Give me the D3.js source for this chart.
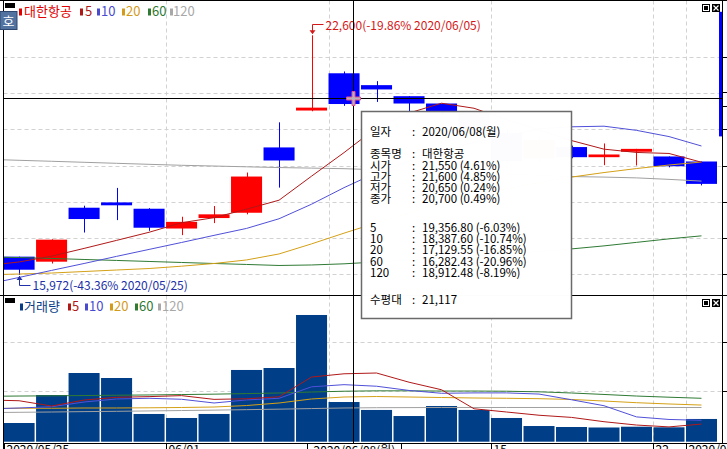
<!DOCTYPE html>
<html><head><meta charset="utf-8">
<script src="https://cdn.jsdelivr.net/npm/d3@7"></script>
<style>
html,body{margin:0;padding:0;background:#fff;overflow:hidden}
svg{display:block;font-family:'Noto Sans CJK KR','Noto Sans',sans-serif}
</style></head><body><svg id="c" width="727" height="449"></svg>
<script>
// ---------------- data ----------------
const prevDate = "2020/05/22";
const tradeDates = ["2020/05/25","2020/05/26","2020/05/27","2020/05/28","2020/05/29","2020/06/01","2020/06/02","2020/06/03","2020/06/04","2020/06/05","2020/06/08","2020/06/09","2020/06/10","2020/06/11","2020/06/12","2020/06/15","2020/06/16","2020/06/17","2020/06/18","2020/06/19","2020/06/22","2020/06/23"];
const openP  = [16480,16341,17833,17980,17805,17258,17547,17694,19500,20520,21550,21222,20917,20714,20450,19900,19200,19510,19230,19380,19250,19111];
const highP  = [16480,16960,17889,18380,17820,17583,17880,18805,20194,22600,21600,21333,20917,20714,20500,20000,19800,19550,19610,19460,19250,19111];
const lowP   = [15972,16290,17147,17491,17194,17075,17408,17650,18389,20500,20650,20758,20481,20400,19850,19050,19100,19200,19010,19000,18950,18450];
const closeP = [16119,16950,17520,17900,17280,17442,17650,18695,19139,20600,20700,21103,20714,20493,19905,19120,19700,19230,19305,19460,18980,18492];
const volume = [1708000,4565000,6810000,6300000,2630000,2220000,2630000,7120000,7320000,12730000,3850000,3040000,2420000,3440000,3040000,2220000,1400000,1300000,1250000,1330000,1270000,2120000];
// moving averages, first value belongs to prevDate
const ma5   = [16236,16333,16494,16708,16930,17154,17418,17558,17793,18041,18705,19357,20047,20451,20722,20583,20267,19986,19690,19452,19361,19333,19091];
const ma10  = [15714,15905,16100,16291,16488,16680,16872,17069,17261,17528,17930,18388,18803,19122,19382,19644,19812,20017,20070,20087,19972,19800,19539];
const ma20  = [15978,16000,16027,16069,16111,16152,16216,16291,16389,16555,16833,17130,17416,17694,17944,18166,18361,18528,18680,18805,18916,19014,19097];
const ma60  = [16472,16455,16430,16402,16375,16347,16319,16291,16264,16236,16250,16282,16333,16389,16444,16500,16555,16625,16694,16778,16875,16972,17055];
const ma120 = [19172,19144,19117,19089,19061,19033,19006,18986,18964,18944,18928,18912,18883,18853,18822,18792,18761,18730,18694,18680,18658,18617,18569];
const vma5   = [4060000,3980000,3440000,4050000,4330000,4400000,4500000,4120000,4180000,4380000,6400000,6730000,6810000,5870000,5100000,3160000,2830000,2500000,2280000,1840000,1500000,1310000,1600000];
const vma10  = [3140000,3240000,3370000,3850000,4160000,4230000,4130000,3750000,4060000,4230000,5400000,5620000,5460000,5030000,4740000,4780000,4780000,4660000,4080000,3470000,2330000,2070000,1980000];
const vma20  = [3190000,3210000,3210000,3240000,3240000,3260000,3290000,3340000,3490000,3750000,4160000,4360000,4410000,4360000,4310000,4260000,4230000,4190000,4110000,3950000,3780000,3650000,3540000];
const vma60  = [4430000,4460000,4480000,4510000,4540000,4570000,4610000,4650000,4710000,4770000,4870000,4950000,4990000,4990000,4970000,4970000,4950000,4890000,4770000,4620000,4460000,4340000,4230000];
const vma120 = [2770000,2800000,2830000,2870000,2900000,2940000,2980000,3020000,3070000,3120000,3180000,3240000,3270000,3280000,3290000,3290000,3290000,3290000,3290000,3290000,3290000,3290000,3290000];
const priceTicks = [16000,17000,18000,19000,20000,21000,22000];
const volTicks = [5000000,10000000];
const dateTicks = [
  {d:"2020/05/25", label:"2020/05/25", grid:false},
  {d:"2020/06/01", label:"06/01", grid:true},
  {d:"2020/06/08", label:"", grid:true},
  {d:"2020/06/15", label:"15", grid:true},
  {d:"2020/06/22", label:"22", grid:true},
  {d:"2020/06/23", label:"2020/06/23", grid:true}
];
const highMark = {d:"2020/06/05", v:22600, text:"22,600(-19.86% 2020/06/05)"};
const lowMark  = {d:"2020/05/25", v:15972, text:"15,972(-43.36% 2020/05/25)"};
const cursor = {d:"2020/06/08", frac:0.8, price:20866, label:"2020/06/08(월)"};
const sideBar = [19805, 23250];
const tipLabels = ["일자","종목명","시가","고가","저가","종가","5","10","20","60","120","수평대"];
const tipValues = ["2020/06/08(월)","대한항공","21,550 (4.61%)","21,600 (4.85%)","20,650 (0.24%)","20,700 (0.49%)","19,356.80 (-6.03%)","18,387.60 (-10.74%)","17,129.55 (-16.85%)","16,282.43 (-20.96%)","18,912.48 (-8.19%)","21,117"];
const priceLegend = [{t:"대한항공",c:"#e00000"},{t:"5",c:"#b01818"},{t:"10",c:"#4a4ad0"},{t:"20",c:"#d49a1c"},{t:"60",c:"#2f7a34"},{t:"120",c:"#a8a8a8"}];
const volLegend   = [{t:"거래량",c:"#0a3d87"},{t:"5",c:"#b01818"},{t:"10",c:"#4a4ad0"},{t:"20",c:"#d49a1c"},{t:"60",c:"#2f7a34"},{t:"120",c:"#a8a8a8"}];

// ---------------- layout ----------------
const svg = d3.select("#c");
const L = 3.5, R = 722.5, pTop = 0.5, pBot = 295.5, vBot = 443.5;
const allDates = [prevDate, ...tradeDates];
const x = d3.scaleBand().domain(allDates).range([-28.93, 717]).paddingInner(0.045).paddingOuter(0);
const bw = x.bandwidth();
const cx = d => x(d) + bw / 2;
const y = d3.scaleLinear().domain([15500, 23500]).range([292.1, 2.75]);
const yv = d3.scaleLinear().domain([-200000, 15000000]).range([441.7, 292.74]);
const maColors = ["#b01818","#5050d8","#d4a017","#2f7a34","#a0a0a0"];

const defs = svg.append("defs");
defs.append("clipPath").attr("id","cp").append("rect").attr("x",L).attr("y",pTop).attr("width",R-L).attr("height",pBot-pTop);
defs.append("clipPath").attr("id","cv").append("rect").attr("x",L).attr("y",pBot).attr("width",R-L).attr("height",vBot-pBot);

const gP = svg.append("g").attr("clip-path","url(#cp)");
const gV = svg.append("g").attr("clip-path","url(#cv)");

// gridlines
const gridCol = "#d2d2d2";
const vgrid = dateTicks.filter(t=>t.grid);
[[gP,pTop,pBot],[gV,pBot,vBot]].forEach(([g,t,b])=>{
  g.selectAll(null).data(vgrid).join("line")
    .attr("x1",d=>Math.round(x(d.d))+0.5).attr("x2",d=>Math.round(x(d.d))+0.5)
    .attr("y1",t).attr("y2",b).attr("stroke",gridCol).attr("stroke-dasharray","4,3");
});
gP.selectAll(null).data(priceTicks).join("line")
  .attr("x1",L).attr("x2",R).attr("y1",d=>Math.round(y(d))+0.5).attr("y2",d=>Math.round(y(d))+0.5)
  .attr("stroke",gridCol).attr("stroke-dasharray","4,3");
gV.selectAll(null).data(volTicks).join("line")
  .attr("x1",L).attr("x2",R).attr("y1",d=>Math.round(yv(d))+0.5).attr("y2",d=>Math.round(yv(d))+0.5)
  .attr("stroke",gridCol).attr("stroke-dasharray","4,3");

// candles
const candles = tradeDates.map((d,i)=>({d,o:openP[i],h:highP[i],l:lowP[i],c:closeP[i]}));
const colOf = k => k.c >= k.o ? "#ff0000" : "#0000ff";
gP.selectAll(".wick").data(candles).join("line").attr("class","wick")
  .attr("x1",k=>Math.round(cx(k.d))+0.5).attr("x2",k=>Math.round(cx(k.d))+0.5)
  .attr("y1",k=>y(k.h)).attr("y2",k=>y(k.l)).attr("stroke",colOf).attr("stroke-width",1);
gP.selectAll(".body").data(candles).join("rect").attr("class","body")
  .attr("x",k=>x(k.d)).attr("width",bw)
  .attr("y",k=>Math.min(y(k.o),y(k.c)))
  .attr("height",k=>Math.max(2,Math.abs(y(k.o)-y(k.c))))
  .attr("fill",colOf);

// side bar at right edge
gP.append("rect").attr("x",R-3.5).attr("width",3).attr("y",y(sideBar[1])).attr("height",y(sideBar[0])-y(sideBar[1])).attr("fill","#0000ff");

// price MAs
const lineP = d3.line().x((v,i)=>cx(allDates[i])).y(v=>y(v));
[ma120,ma60,ma20,ma10,ma5].forEach((arr,j)=>{
  gP.append("path").attr("d",lineP(arr)).attr("fill","none").attr("stroke",maColors[4-j]).attr("stroke-width",1);
});

// volume bars
const vols = tradeDates.map((d,i)=>({d,v:volume[i]}));
gV.selectAll(".vb").data(vols).join("rect").attr("class","vb")
  .attr("x",k=>x(k.d)).attr("width",bw).attr("y",k=>yv(k.v)).attr("height",k=>yv(-200000)-yv(k.v))
  .attr("fill","#003f88");
const lineV = d3.line().x((v,i)=>cx(allDates[i])).y(v=>yv(v));
[vma120,vma60,vma20,vma10,vma5].forEach((arr,j)=>{
  gV.append("path").attr("d",lineV(arr)).attr("fill","none").attr("stroke",maColors[4-j]).attr("stroke-width",1);
});

// high annotation
{
  const hx = Math.round(cx(highMark.d))+0.5, hy = y(highMark.v);
  const col = "#d41818";
  gP.append("path").attr("d",`M${hx},${hy-2}V24.5H${hx+11}`).attr("fill","none").attr("stroke",col);
  gP.append("path").attr("d",`M${hx-3},${hy-5}L${hx+3},${hy-5}L${hx},${hy-1}Z`).attr("fill",col);
  gP.append("text").attr("x",hx+13).attr("y",29.5).attr("font-size",12).attr("fill",col).text(highMark.text);
}
// low annotation
{
  const lx = Math.round(cx(lowMark.d))+0.5, ly = y(lowMark.v);
  const col = "#2030a8";
  gP.append("path").attr("d",`M${lx},${ly+1}V285.5H${lx+11}`).attr("fill","none").attr("stroke",col);
  gP.append("path").attr("d",`M${lx-3},${ly+5}L${lx+3},${ly+5}L${lx},${ly+1}Z`).attr("fill",col);
  gP.append("text").attr("x",lx+13).attr("y",289.5).attr("font-size",12).attr("fill",col).text(lowMark.text);
}

// frame & axes
const frame = svg.append("g").attr("stroke","#000").attr("stroke-width",1);
frame.append("line").attr("x1",0).attr("x2",727).attr("y1",0.5).attr("y2",0.5);
frame.append("line").attr("x1",L).attr("x2",L).attr("y1",0).attr("y2",449);
frame.append("line").attr("x1",0).attr("x2",727).attr("y1",pBot).attr("y2",pBot);
frame.append("line").attr("x1",L).attr("x2",727).attr("y1",vBot).attr("y2",vBot);
frame.append("line").attr("x1",R).attr("x2",R).attr("y1",0).attr("y2",vBot);
frame.selectAll(null).data(priceTicks).join("line").attr("x1",R).attr("x2",727)
  .attr("y1",d=>Math.round(y(d))+0.5).attr("y2",d=>Math.round(y(d))+0.5);
frame.selectAll(null).data(volTicks).join("line").attr("x1",R).attr("x2",727)
  .attr("y1",d=>Math.round(yv(d))+0.5).attr("y2",d=>Math.round(yv(d))+0.5);
frame.selectAll(null).data(dateTicks).join("line")
  .attr("x1",d=>Math.round(x(d.d))+0.5).attr("x2",d=>Math.round(x(d.d))+0.5).attr("y1",vBot).attr("y2",449);
svg.selectAll(".dl").data(dateTicks.filter(d=>d.label)).join("text").attr("class","dl")
  .attr("x",d=>Math.round(x(d.d))+2.5).attr("y",454).attr("font-size",12).attr("fill","#000").text(d=>d.label);

// crosshair
const crX = Math.round(x(cursor.d)+cursor.frac*bw)+0.5, crY = Math.round(y(cursor.price))+0.5;
svg.append("line").attr("x1",L).attr("x2",R).attr("y1",crY).attr("y2",crY).attr("stroke","#000");
svg.append("line").attr("x1",crX).attr("x2",crX).attr("y1",0).attr("y2",vBot).attr("stroke","#000");
svg.append("rect").attr("x",R).attr("y",crY-6).attr("width",30).attr("height",14).attr("fill","#fff").attr("stroke","#000");
svg.append("rect").attr("x",crX-46).attr("y",vBot).attr("width",94).attr("height",16).attr("fill","#fff").attr("stroke","#000");
svg.append("text").attr("x",crX+1).attr("y",455).attr("text-anchor","middle").attr("font-size",12).text(cursor.label);
// cursor icon
svg.append("path").attr("d",`M${crX-1.5},${crY-7}h3v5.5h5.5v3h-5.5v5.5h-3v-5.5h-5.5v-3h5.5z`)
  .attr("fill","#b8b0b8").attr("stroke","#e05090").attr("stroke-width",1);

// legends
function legend(items, top, mx, tx){
  svg.append("rect").attr("x",5).attr("y",top+2.5).attr("width",10).attr("height",5).attr("fill","#000");
  items.forEach((it,i)=>{
    svg.append("rect").attr("x",mx[i]).attr("y",top+8).attr("width",3).attr("height",7).attr("fill",it.c);
    svg.append("text").attr("x",tx[i]).attr("y",top+15.5).attr("font-size",13).attr("fill",it.c).text(it.t);
  });
}
legend(priceLegend, 0.5, [19,80,97,122,148,170],[24,85,101,126,152,173]);
legend(volLegend, 295.5, [20,68,85,110,135,158],[24,72,89,114,139,162]);
// '호' box
svg.append("rect").attr("x",0).attr("y",11.5).attr("width",17).attr("height",18).attr("fill","#5272a0").attr("stroke","#2c4670");
svg.append("text").attr("x",8.5).attr("y",25.5).attr("text-anchor","middle").attr("font-size",13).attr("fill","#fff").text("호");

// window icons
[4, 299].forEach(t=>{
  svg.append("rect").attr("x",702.5).attr("y",t+0.5).attr("width",7).attr("height",7).attr("fill","#fff").attr("stroke","#000");
  svg.append("rect").attr("x",704).attr("y",t+2).attr("width",4).attr("height",4).attr("fill","#000");
  svg.append("rect").attr("x",712).attr("y",t).attr("width",8).attr("height",8).attr("fill","#000");
  svg.append("path").attr("d",`M713.5,${t+1.5}L718.5,${t+6.5}M718.5,${t+1.5}L713.5,${t+6.5}`).attr("stroke","#fff").attr("stroke-width",1.2);
});

// tooltip
const tip = svg.append("g");
tip.append("rect").attr("x",361.5).attr("y",111.5).attr("width",210).attr("height",207)
  .attr("fill","#fff").attr("fill-opacity",0.99).attr("stroke","#6a6a6a").attr("stroke-width",1.5);
const tipY = [136,158,169.5,181,192,203,231.7,243,254,265.5,277,304];
tipLabels.forEach((t,i)=>{
  tip.append("text").attr("x",370).attr("y",tipY[i]).attr("font-size",11.5).attr("fill","#000").text(t);
  tip.append("text").attr("x",412).attr("y",tipY[i]).attr("font-size",11.5).attr("fill","#000").text(":");
  tip.append("text").attr("x",422).attr("y",tipY[i]).attr("font-size",11.5).attr("fill","#000").text(tipValues[i]);
});
</script></body></html>
